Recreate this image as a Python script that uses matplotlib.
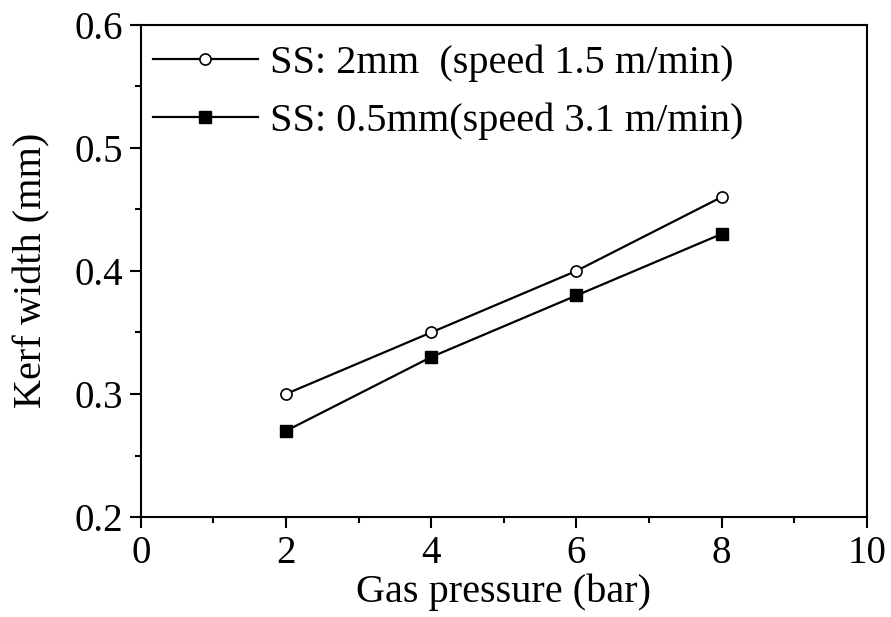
import matplotlib.pyplot as plt
from matplotlib.ticker import MultipleLocator

plt.rcParams['font.family'] = ['Liberation Serif', 'DejaVu Serif']

# data
pressure = [2, 4, 6, 8]
kerf_2mm = [0.30, 0.35, 0.40, 0.46]
kerf_05mm = [0.27, 0.33, 0.38, 0.43]
labels = ['SS: 2mm  (speed 1.5 m/min)', 'SS: 0.5mm(speed 3.1 m/min)']

fig = plt.figure(figsize=(8.91, 6.17), dpi=100)
ax = fig.add_axes([0.158, 0.162, 0.815, 0.798])

ax.plot(pressure, kerf_2mm, color='black', lw=1.6, marker='o', ms=8,
        mfc='white', mec='black', mew=1.2, label=labels[0])
ax.plot(pressure, kerf_05mm, color='black', lw=1.6, marker='s', ms=8,
        mfc='black', mec='black', label=labels[1])

ax.set_xlim(0, 10)
ax.set_ylim(0.2, 0.6)
ax.xaxis.set_major_locator(MultipleLocator(2))
ax.xaxis.set_minor_locator(MultipleLocator(1))
ax.yaxis.set_major_locator(MultipleLocator(0.1))
ax.yaxis.set_minor_locator(MultipleLocator(0.05))
ax.tick_params(which='major', direction='out', length=8, width=1.5, labelsize=28, pad=5)
ax.tick_params(which='minor', direction='out', length=4.5, width=1.5)
for s in ax.spines.values():
    s.set_linewidth(1.5)

ax.set_xlabel('Gas pressure (bar)', fontsize=29, labelpad=1)
ax.set_ylabel('Kerf width (mm)', fontsize=29, labelpad=17)

ax.legend(loc='upper left', bbox_to_anchor=(0.0, 0.985), frameon=False,
          fontsize=29, handlelength=2.6, handletextpad=0.3, labelspacing=0.52,
          borderaxespad=0.15, borderpad=0.15)

fig.savefig('out.png', dpi=100)
